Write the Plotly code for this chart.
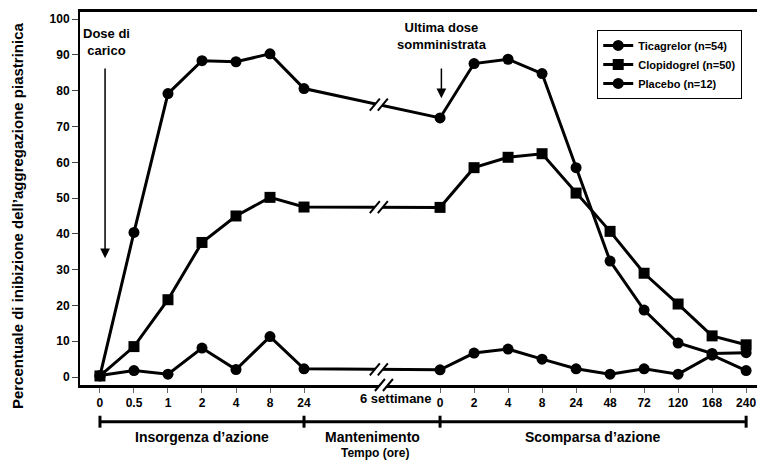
import plotly.graph_objects as go

# ---- data ----
x_labels = ["0", "0.5", "1", "2", "4", "8", "24",
            "0", "2", "4", "8", "24", "48", "72", "120", "168", "240"]
x_pos = [0, 1, 2, 3, 4, 5, 6, 10, 11, 12, 13, 14, 15, 16, 17, 18, 19]

ticagrelor = [0.3, 40.4, 79.2, 88.4, 88.1, 90.3, 80.6,
              72.4, 87.6, 88.8, 84.8, 58.5, 32.4, 18.7, 9.5, 6.6, 6.8]
clopidogrel = [0.3, 8.5, 21.6, 37.6, 45.0, 50.2, 47.5,
               47.4, 58.5, 61.4, 62.4, 51.4, 40.7, 29.0, 20.4, 11.5, 9.0]
placebo = [0.4, 1.8, 0.8, 8.1, 2.1, 11.3, 2.3,
           2.0, 6.7, 7.8, 5.0, 2.3, 0.8, 2.3, 0.8, 6.1, 1.8]

series_names = ["Ticagrelor (n=54)", "Clopidogrel (n=50)", "Placebo (n=12)"]
series_symbols = ["circle", "square", "circle"]
y_ticks = [0, 10, 20, 30, 40, 50, 60, 70, 80, 90, 100]

phases = ["Insorgenza d\u2019azione", "Mantenimento", "Scomparsa d\u2019azione"]
phase_bounds = [0, 6, 10, 19]

BREAK_X = 8.2
FONT = "Arial, Liberation Sans, sans-serif"

fig = go.Figure()
for name, vals, sym in zip(series_names, [ticagrelor, clopidogrel, placebo], series_symbols):
    fig.add_trace(go.Scatter(
        x=x_pos, y=vals, name="<b>" + name + "</b>", mode="lines+markers",
        line=dict(color="black", width=3),
        marker=dict(symbol=sym, size=11, color="black"),
    ))

shapes = []


def interp(vals, bx):
    i0, i1 = 6, 7  # points at x=6 and x=10
    x0, x1 = x_pos[i0], x_pos[i1]
    return vals[i0] + (vals[i1] - vals[i0]) * (bx - x0) / (x1 - x0)


def add_break(bx, by, yref="y"):
    common = dict(xref="x", yref=yref, xsizemode="pixel", ysizemode="pixel",
                  xanchor=bx, yanchor=by, layer="above")
    shapes.append(dict(type="line", x0=-4, y0=-5, x1=4, y1=5,
                       line=dict(color="white", width=6), **common))
    shapes.append(dict(type="line", x0=-9, y0=-6, x1=1, y1=6,
                       line=dict(color="black", width=2), **common))
    shapes.append(dict(type="line", x0=-1, y0=-6, x1=9, y1=6,
                       line=dict(color="black", width=2), **common))


for vals in [ticagrelor, clopidogrel, placebo]:
    add_break(BREAK_X, interp(vals, BREAK_X))
add_break(BREAK_X + 0.15, 0, yref="paper")

# phase brackets (below the axis), paper y
BR_Y = -0.0984
shapes.append(dict(type="line", xref="x", yref="paper", x0=phase_bounds[0], x1=phase_bounds[-1],
                   y0=BR_Y, y1=BR_Y, line=dict(color="black", width=3)))
for b in phase_bounds:
    shapes.append(dict(type="line", xref="x", yref="paper", x0=b, x1=b,
                       y0=BR_Y - 0.016, y1=BR_Y + 0.016, line=dict(color="black", width=3)))

annotations = []
for i, ph in enumerate(phases):
    annotations.append(dict(x=(phase_bounds[i] + phase_bounds[i + 1]) / 2, y=-0.139,
                            xref="x", yref="paper", text="<b>" + ph + "</b>", showarrow=False,
                            font=dict(family=FONT, size=14, color="black"), yanchor="middle"))
annotations.append(dict(x=8.1, y=-0.182, xref="x", yref="paper", text="<b>Tempo (ore)</b>",
                        showarrow=False, yanchor="middle",
                        font=dict(family=FONT, size=12, color="black")))
annotations.append(dict(x=8.7, y=-0.035, xref="x", yref="paper", text="<b>6 settimane</b>",
                        showarrow=False, yanchor="middle",
                        font=dict(family=FONT, size=13, color="black")))
annotations.append(dict(x=-0.093, y=0.453, xref="paper", yref="paper",
                        text="<b>Percentuale di inibizione dell\u2019aggregazione piastrinica</b>",
                        textangle=-90, showarrow=False, xanchor="center", yanchor="middle",
                        font=dict(family=FONT, size=15, color="black")))

annotations.append(dict(x=0.2, y=93.5, xref="x", yref="y", text="<b>Dose di<br>carico</b>",
                        showarrow=False, font=dict(family=FONT, size=13, color="black")))
annotations.append(dict(x=0.15, y=33.2, ax=0.15, ay=86.6, xref="x", yref="y", axref="x", ayref="y",
                        text="", showarrow=True, arrowhead=2, arrowsize=1.3, arrowwidth=1.5,
                        arrowcolor="black"))
annotations.append(dict(x=10.07, y=95.3, xref="x", yref="y",
                        text="<b>Ultima dose<br>somministrata</b>",
                        showarrow=False, font=dict(family=FONT, size=13, color="black")))
annotations.append(dict(x=10.04, y=77.9, ax=10.04, ay=86.6, xref="x", yref="y", axref="x", ayref="y",
                        text="", showarrow=True, arrowhead=2, arrowsize=1.3, arrowwidth=1.5,
                        arrowcolor="black"))

fig.update_layout(
    width=758, height=461,
    margin=dict(l=80, r=1, t=12, b=76, autoexpand=False),
    paper_bgcolor="white", plot_bgcolor="white",
    font=dict(family=FONT, color="black"),
    showlegend=True,
    legend=dict(x=0.764, y=0.952, xanchor="left", yanchor="top",
                bordercolor="black", borderwidth=1, bgcolor="white",
                font=dict(family=FONT, size=11, color="black"),
                itemwidth=30, tracegroupgap=0),
    shapes=shapes,
    annotations=annotations,
    xaxis=dict(range=[-0.587, 19.32], tickmode="array", tickvals=x_pos,
               ticktext=["<b>" + t + "</b>" for t in x_labels],
               showline=True, linecolor="black", linewidth=2.5, mirror=True,
               ticks="outside", ticklen=5, tickcolor="#666", tickwidth=1,
               showgrid=False, zeroline=False, automargin=False,
               tickfont=dict(family=FONT, size=12, color="black")),
    yaxis=dict(range=[-2.23, 102.0], tickmode="array", tickvals=y_ticks,
               ticktext=["<b>%d</b>" % v for v in y_ticks],
               showline=True, linecolor="black", linewidth=2, ticks="outside",
               ticklen=6, tickcolor="#444", tickwidth=1,
               showgrid=False, zeroline=False, automargin=False,
               tickfont=dict(family=FONT, size=12, color="black")),
)

fig.write_html("out.html", config={"displayModeBar": False},
               post_script="document.body.style.margin='0';document.body.style.overflow='hidden';")
